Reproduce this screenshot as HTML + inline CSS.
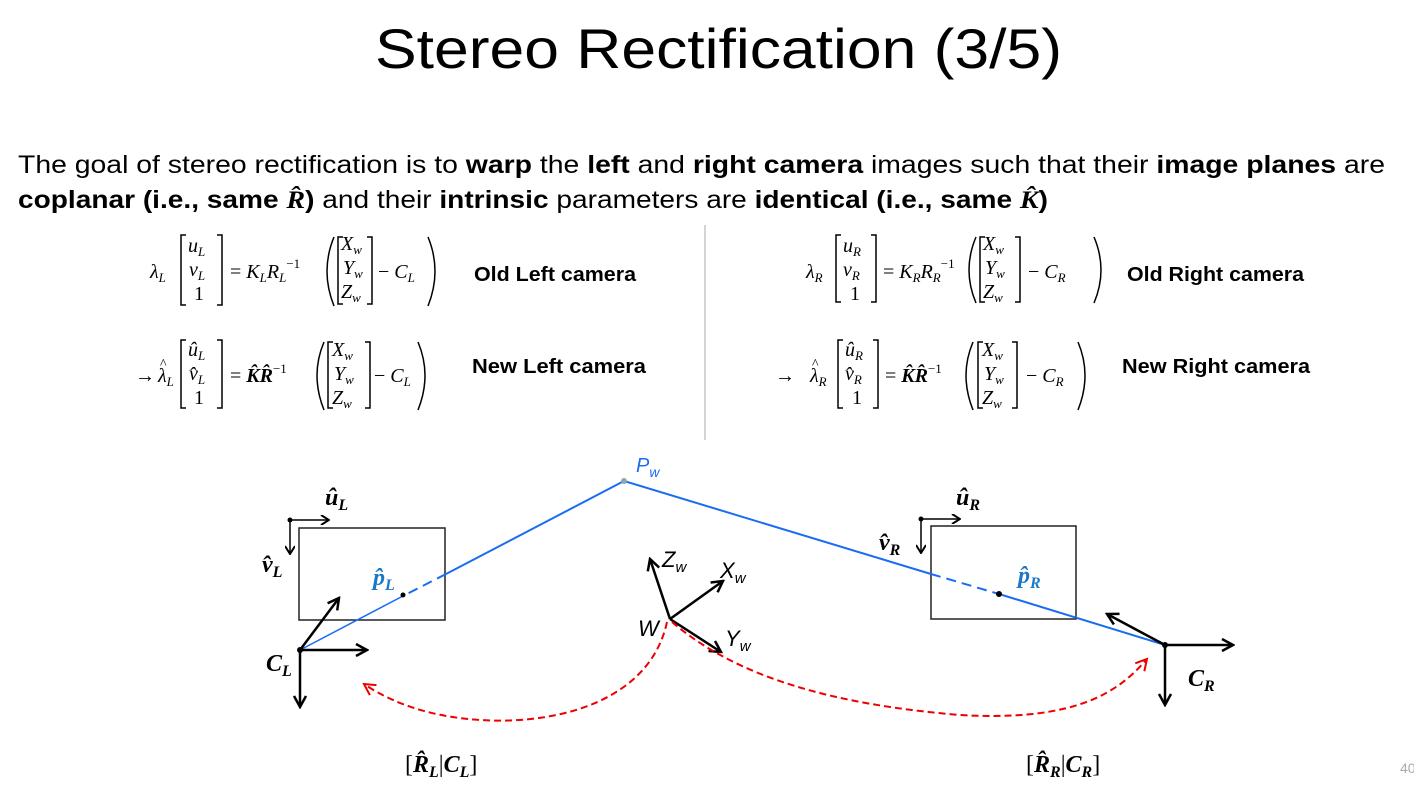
<!DOCTYPE html>
<html><head><meta charset="utf-8"><style>
html,body{margin:0;padding:0;background:#fff;}
svg{display:block;}
.m{font-family:"Liberation Serif",serif;font-style:italic;font-size:20px;fill:#000;}
.s{font-size:13px;}
.lab{font-family:"Liberation Sans",sans-serif;font-weight:bold;font-size:20px;}
.b{font-family:"Liberation Serif",serif;font-style:italic;font-weight:bold;font-size:24px;}
</style></head><body>
<svg width="1414" height="787" viewBox="0 0 1414 787" xmlns="http://www.w3.org/2000/svg">
<defs>
<marker id="ah" markerWidth="10" markerHeight="10" refX="9" refY="5" orient="auto" markerUnits="userSpaceOnUse"><path d="M1,0 L9,5 L1,10" fill="none" stroke="#000" stroke-width="2"/></marker>
<marker id="ah2" markerWidth="14" markerHeight="14" refX="12" refY="7" orient="auto" markerUnits="userSpaceOnUse"><path d="M1,1 L12,7 L1,13" fill="none" stroke="#000" stroke-width="2.5"/></marker>
<marker id="ar" markerWidth="14" markerHeight="14" refX="12" refY="7" orient="auto" markerUnits="userSpaceOnUse"><path d="M1,1 L12,7 L1,13" fill="none" stroke="#e00" stroke-width="2"/></marker>
</defs>
<text x="375" y="68" textLength="687" lengthAdjust="spacingAndGlyphs" font-family="Liberation Sans,sans-serif" font-size="56" fill="#000">Stereo Rectification (3/5)</text>
<g font-family="Liberation Sans,sans-serif" font-size="25" fill="#000">
<text x="18" y="173" textLength="1367" lengthAdjust="spacingAndGlyphs">The goal of stereo rectification is to <tspan font-weight="bold">warp</tspan> the <tspan font-weight="bold">left</tspan> and <tspan font-weight="bold">right camera</tspan> images such that their <tspan font-weight="bold">image planes</tspan> are</text>
<text x="18" y="208" textLength="1030" lengthAdjust="spacingAndGlyphs"><tspan font-weight="bold">coplanar (i.e., same </tspan><tspan font-family="Liberation Serif,serif" font-style="italic" font-weight="bold">R̂</tspan><tspan font-weight="bold">)</tspan> and their <tspan font-weight="bold">intrinsic</tspan> parameters are <tspan font-weight="bold">identical (i.e., same </tspan><tspan font-family="Liberation Serif,serif" font-style="italic" font-weight="bold">K̂</tspan><tspan font-weight="bold">)</tspan></text>
</g>
<line x1="705" y1="225" x2="705" y2="440" stroke="#aaa" stroke-width="1"/>

<g fill="none" stroke="#000" stroke-width="1.5">
<path d="M186 235H181V305H186M217 235H222V305H217"/>
<path d="M334 237Q320 271 334 306M428 237Q442 271 428 306"/>
<path d="M343 237H338V304H343M367 237H372V304H367"/>
<path d="M186 340H181V408H186M217 340H222V408H217"/>
<path d="M324 342Q310 375 324 410M418 342Q432 375 418 410"/>
<path d="M333 342H328V408H333M365 342H370V408H365"/>
<path d="M841 235H836V302H841M871 235H876V302H871"/>
<path d="M976 237Q962 270 976 303M1094 237Q1108 270 1094 303"/>
<path d="M985 237H980V302H985M1015 237H1020V302H1015"/>
<path d="M843 340H838V408H843M873 340H878V408H873"/>
<path d="M973 342Q959 375 973 410M1078 342Q1092 375 1078 410"/>
<path d="M983 342H978V408H983M1012 342H1017V408H1012"/>
</g>
<g class="m">
<text x="150" y="278">λ<tspan class="s" dy="4">L</tspan></text>
<text x="188" y="252">u<tspan class="s" dy="4">L</tspan></text>
<text x="189" y="276">v<tspan class="s" dy="4">L</tspan></text>
<text x="194" y="300" font-style="normal">1</text>
<text x="230" y="278" font-style="normal">= <tspan font-style="italic">K</tspan><tspan class="s" dy="4" font-style="italic">L</tspan><tspan dy="-4" font-style="italic">R</tspan><tspan class="s" dy="4" font-style="italic">L</tspan><tspan class="s" dy="-14">−1</tspan></text>
<text x="341" y="250">X<tspan class="s" dy="4">w</tspan></text>
<text x="343" y="274">Y<tspan class="s" dy="4">w</tspan></text>
<text x="341" y="298">Z<tspan class="s" dy="4">w</tspan></text>
<text x="378" y="278" font-style="normal">− <tspan font-style="italic">C</tspan><tspan class="s" dy="4" font-style="italic">L</tspan></text>

<text x="135" y="382" font-style="normal">→ </text>
<text x="158" y="382">λ<tspan class="s" dy="4">L</tspan></text>
<text x="160" y="368" font-style="normal" font-size="14">^</text>
<text x="188" y="356">û<tspan class="s" dy="4">L</tspan></text>
<text x="189" y="380">v̂<tspan class="s" dy="4">L</tspan></text>
<text x="194" y="404" font-style="normal">1</text>
<text x="230" y="382" font-style="normal">= <tspan font-weight="bold" font-style="italic">K̂R̂</tspan><tspan class="s" dy="-9">−1</tspan></text>
<text x="332" y="356">X<tspan class="s" dy="4">w</tspan></text>
<text x="334" y="380">Y<tspan class="s" dy="4">w</tspan></text>
<text x="332" y="404">Z<tspan class="s" dy="4">w</tspan></text>
<text x="374" y="382" font-style="normal">− <tspan font-style="italic">C</tspan><tspan class="s" dy="4" font-style="italic">L</tspan></text>

<text x="806" y="278">λ<tspan class="s" dy="4">R</tspan></text>
<text x="843" y="252">u<tspan class="s" dy="4">R</tspan></text>
<text x="843" y="276">v<tspan class="s" dy="4">R</tspan></text>
<text x="850" y="300" font-style="normal">1</text>
<text x="883" y="278" font-style="normal">= <tspan font-style="italic">K</tspan><tspan class="s" dy="4" font-style="italic">R</tspan><tspan dy="-4" font-style="italic">R</tspan><tspan class="s" dy="4" font-style="italic">R</tspan><tspan class="s" dy="-14">−1</tspan></text>
<text x="983" y="250">X<tspan class="s" dy="4">w</tspan></text>
<text x="985" y="274">Y<tspan class="s" dy="4">w</tspan></text>
<text x="983" y="298">Z<tspan class="s" dy="4">w</tspan></text>
<text x="1028" y="278" font-style="normal">− <tspan font-style="italic">C</tspan><tspan class="s" dy="4" font-style="italic">R</tspan></text>

<text x="775" y="382" font-style="normal">→ </text>
<text x="810" y="382">λ<tspan class="s" dy="4">R</tspan></text>
<text x="812" y="368" font-style="normal" font-size="14">^</text>
<text x="845" y="356">û<tspan class="s" dy="4">R</tspan></text>
<text x="845" y="380">v̂<tspan class="s" dy="4">R</tspan></text>
<text x="852" y="404" font-style="normal">1</text>
<text x="885" y="382" font-style="normal">= <tspan font-weight="bold" font-style="italic">K̂R̂</tspan><tspan class="s" dy="-9">−1</tspan></text>
<text x="982" y="356">X<tspan class="s" dy="4">w</tspan></text>
<text x="984" y="380">Y<tspan class="s" dy="4">w</tspan></text>
<text x="982" y="404">Z<tspan class="s" dy="4">w</tspan></text>
<text x="1026" y="382" font-style="normal">− <tspan font-style="italic">C</tspan><tspan class="s" dy="4" font-style="italic">R</tspan></text>
</g>
<g class="lab">
<text x="474" y="281" textLength="162" lengthAdjust="spacingAndGlyphs">Old Left camera</text>
<text x="472" y="373" textLength="174" lengthAdjust="spacingAndGlyphs">New Left camera</text>
<text x="1127" y="281" textLength="177" lengthAdjust="spacingAndGlyphs">Old Right camera</text>
<text x="1122" y="373" textLength="188" lengthAdjust="spacingAndGlyphs">New Right camera</text>
</g>

<rect x="299" y="528" width="146" height="92" fill="none" stroke="#222" stroke-width="1.5"/>
<rect x="931" y="526" width="145" height="93" fill="none" stroke="#222" stroke-width="1.5"/>
<g stroke="#1a6cf0" stroke-width="2" fill="none">
<path d="M624 481L446 574"/>
<path d="M446 574L403 596" stroke-dasharray="10,6"/>
<path d="M403 596L300 650" stroke-width="1.5"/>
<path d="M624 481L931 574"/>
<path d="M931 574L999 594" stroke-dasharray="10,6"/>
<path d="M999 594L1165 645"/>
</g>
<circle cx="624" cy="481" r="3" fill="#8aa"/>
<text x="636" y="472" font-family="Liberation Sans,sans-serif" font-style="italic" font-size="20" fill="#1a6cf0">P<tspan font-size="14" dy="5">w</tspan></text>
<circle cx="403" cy="595" r="2.5" fill="#000"/>
<circle cx="999" cy="594" r="3" fill="#000"/>
<g stroke="#000" stroke-width="1.5" fill="none">
<path d="M290 520H329" marker-end="url(#ah)"/>
<path d="M290 520V554" marker-end="url(#ah)"/>
<path d="M921 519H960" marker-end="url(#ah)"/>
<path d="M921 519V553" marker-end="url(#ah)"/>
</g>
<circle cx="290" cy="520" r="2.5"/><circle cx="921" cy="519" r="2.5"/>
<g stroke="#000" stroke-width="2.5" fill="none">
<path d="M300 650H367" marker-end="url(#ah2)"/>
<path d="M300 650V707" marker-end="url(#ah2)"/>
<path d="M300 650L339 598" marker-end="url(#ah2)"/>
<path d="M1165 645H1233" marker-end="url(#ah2)"/>
<path d="M1165 645V705" marker-end="url(#ah2)"/>
<path d="M1165 645L1107 614" marker-end="url(#ah2)"/>
<path d="M670 619L650 559" marker-end="url(#ah2)"/>
<path d="M670 619L723 581" marker-end="url(#ah2)"/>
<path d="M670 619L721 652" marker-end="url(#ah2)"/>
</g>
<circle cx="300" cy="650" r="3"/><circle cx="1165" cy="645" r="3"/>
<g stroke="#e00" stroke-width="2" fill="none" stroke-dasharray="7,4">
<path d="M667 622C650 700 560 725 480 720C420 716 385 698 364 684" marker-end="url(#ar)"/>
<path d="M672 622C740 680 840 705 960 715C1080 722 1120 690 1147 659" marker-end="url(#ar)"/>
</g>
<g font-family="Liberation Sans,sans-serif" font-style="italic" font-size="22" fill="#000">
<text x="638" y="636">W</text>
<text x="662" y="567">Z<tspan font-size="15" dy="5">w</tspan></text>
<text x="720" y="578">X<tspan font-size="15" dy="5">w</tspan></text>
<text x="725" y="646">Y<tspan font-size="15" dy="5">w</tspan></text>
</g>
<g class="b">
<text x="325" y="505">û<tspan font-size="16" dy="5">L</tspan></text>
<text x="262" y="572">v̂<tspan font-size="16" dy="5">L</tspan></text>
<text x="373" y="585" fill="#1a78c8">p̂<tspan font-size="16" dy="5">L</tspan></text>
<text x="266" y="671">C<tspan font-size="16" dy="5">L</tspan></text>
<text x="956" y="505">û<tspan font-size="16" dy="5">R</tspan></text>
<text x="879" y="550">v̂<tspan font-size="16" dy="5">R</tspan></text>
<text x="1018" y="583" fill="#1a78c8">p̂<tspan font-size="16" dy="5">R</tspan></text>
<text x="1188" y="686">C<tspan font-size="16" dy="5">R</tspan></text>
<text x="405" y="772"><tspan font-weight="normal" font-style="normal">[</tspan>R̂<tspan font-size="16" dy="5">L</tspan><tspan dy="-5" font-weight="normal" font-style="normal">|</tspan>C<tspan font-size="16" dy="5">L</tspan><tspan dy="-5" font-weight="normal" font-style="normal">]</tspan></text>
<text x="1026" y="772"><tspan font-weight="normal" font-style="normal">[</tspan>R̂<tspan font-size="16" dy="5">R</tspan><tspan dy="-5" font-weight="normal" font-style="normal">|</tspan>C<tspan font-size="16" dy="5">R</tspan><tspan dy="-5" font-weight="normal" font-style="normal">]</tspan></text>
</g>
<text x="1400" y="773" font-family="Liberation Sans,sans-serif" font-size="14" fill="#aaa">40</text>
</svg>
</body></html>
